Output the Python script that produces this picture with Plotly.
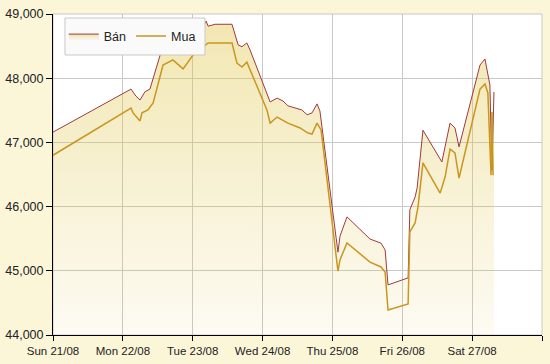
import plotly.graph_objects as go

# Bán (sell) series
ban_time = ["2011-08-21 00:00", "2011-08-22 02:48", "2011-08-22 04:30", "2011-08-22 05:54",
            "2011-08-22 07:36", "2011-08-22 09:18", "2011-08-22 12:48", "2011-08-22 14:30",
            "2011-08-22 16:12", "2011-08-22 19:36", "2011-08-22 23:06", "2011-08-23 01:30",
            "2011-08-23 02:48", "2011-08-23 03:54", "2011-08-23 04:36", "2011-08-23 05:18",
            "2011-08-23 07:42", "2011-08-23 13:30", "2011-08-23 15:36", "2011-08-23 16:54",
            "2011-08-23 18:36", "2011-08-23 19:42", "2011-08-24 02:36", "2011-08-24 05:00",
            "2011-08-24 07:00", "2011-08-24 08:42", "2011-08-24 13:30", "2011-08-24 15:18",
            "2011-08-24 17:00", "2011-08-24 18:42", "2011-08-24 19:42", "2011-08-25 01:54",
            "2011-08-25 02:36", "2011-08-25 05:00", "2011-08-25 12:54", "2011-08-25 16:42",
            "2011-08-25 18:06", "2011-08-25 19:06", "2011-08-26 02:00", "2011-08-26 02:36",
            "2011-08-26 04:24", "2011-08-26 05:06", "2011-08-26 07:06", "2011-08-26 13:36",
            "2011-08-26 16:24", "2011-08-26 18:06", "2011-08-26 19:30", "2011-08-27 02:42",
            "2011-08-27 04:24", "2011-08-27 06:06", "2011-08-27 06:48", "2011-08-27 07:30"]
ban_price = [47160, 47830, 47720, 47660,
             47790, 47830, 48360, 48595,
             48720, 48780, 48840, 48875,
             48890, 48830, 48890, 48810,
             48840, 48840, 48520, 48490,
             48550, 48440, 47630, 47690,
             47645, 47570, 47505, 47430,
             47460, 47600, 47490, 45290,
             45540, 45840, 45495, 45430,
             45325, 44780, 44890, 45950,
             46150, 46290, 47190, 46695,
             47300, 47225, 46930, 48205,
             48300, 47895, 46570, 47785]

# Mua (buy) series
mua_time = ["2011-08-21 00:00", "2011-08-22 02:48", "2011-08-22 03:30", "2011-08-22 05:54",
            "2011-08-22 06:36", "2011-08-22 08:36", "2011-08-22 10:24", "2011-08-22 12:48",
            "2011-08-22 13:48", "2011-08-22 17:12", "2011-08-22 20:42", "2011-08-23 00:06",
            "2011-08-23 04:12", "2011-08-23 05:18", "2011-08-23 13:30", "2011-08-23 15:12",
            "2011-08-23 16:54", "2011-08-23 18:36", "2011-08-24 01:30", "2011-08-24 02:36",
            "2011-08-24 05:00", "2011-08-24 07:00", "2011-08-24 08:42", "2011-08-24 12:54",
            "2011-08-24 15:36", "2011-08-24 17:00", "2011-08-24 18:42", "2011-08-24 20:06",
            "2011-08-25 01:54", "2011-08-25 02:36", "2011-08-25 05:00", "2011-08-25 12:54",
            "2011-08-25 16:42", "2011-08-25 18:06", "2011-08-25 19:06", "2011-08-26 02:00",
            "2011-08-26 02:36", "2011-08-26 04:24", "2011-08-26 05:24", "2011-08-26 07:06",
            "2011-08-26 13:00", "2011-08-26 14:42", "2011-08-26 16:24", "2011-08-26 18:06",
            "2011-08-26 19:30", "2011-08-27 02:42", "2011-08-27 04:24", "2011-08-27 05:24",
            "2011-08-27 06:30", "2011-08-27 06:48", "2011-08-27 07:12"]
mua_price = [46800, 47535, 47460, 47335,
             47460, 47505, 47615, 48005,
             48205, 48285, 48145, 48360,
             48515, 48550, 48550, 48235,
             48175, 48250, 47505, 47300,
             47395, 47350, 47300, 47225,
             47145, 47130, 47300, 47195,
             44995, 45170, 45435, 45135,
             45060, 44980, 44390, 44485,
             45605, 45745, 45995, 46680,
             46210, 46460, 46895, 46835,
             46445, 47830, 47910, 47770,
             46490, 47475, 46490]

y_range = [44000, 49000]
x_range = ["2011-08-21", "2011-08-28"]

FONT = "Liberation Sans, Arial, sans-serif"
PAPER = "#FBF6D8"

fig = go.Figure()
fig.add_trace(go.Scatter(
    x=ban_time, y=ban_price, name="Bán", mode="lines",
    line=dict(color="#9E3A3E", width=1),
    fill="tozeroy",
    fillgradient=dict(type="vertical", start=y_range[0], stop=y_range[1],
                      colorscale=[[0, "rgba(225,200,80,0.07)"], [1, "rgba(225,200,80,0.45)"]]),
))
fig.add_trace(go.Scatter(
    x=mua_time, y=mua_price, name="Mua", mode="lines",
    line=dict(color="#C9961F", width=1.5),
))

fig.update_layout(
    width=550, height=364,
    margin=dict(l=53, r=8, t=14, b=29, autoexpand=False),
    paper_bgcolor=PAPER,
    plot_bgcolor="#FFFFFF",
    font=dict(family=FONT, size=12, color="#222222"),
    showlegend=True,
    legend=dict(orientation="h", x=0.022, y=0.93, xanchor="left", yanchor="middle",
                bgcolor="rgba(0,0,0,0)", borderwidth=0,
                font=dict(size=12.5, family=FONT, color="#222222"),
                itemwidth=30),
    xaxis=dict(type="date", range=x_range, tick0="2011-08-21", dtick=86400000,
               tickformat="%a %d/%m", showgrid=True, gridcolor="#C8C8C8", gridwidth=1,
               showline=True, linecolor="#000000", linewidth=1,
               ticks="outside", ticklen=5, tickcolor="#000000",
               tickfont=dict(size=11.5, family=FONT, color="#222222"),
               zeroline=False, fixedrange=True, layer="above traces", automargin=False),
    yaxis=dict(range=y_range, dtick=1000, tickformat=",", showgrid=True,
               gridcolor="#C8C8C8", gridwidth=1,
               showline=True, linecolor="#000000", linewidth=1,
               ticks="outside", ticklen=6, tickcolor="#000000",
               tickfont=dict(size=12.5, family=FONT, color="#222222"),
               zeroline=False, fixedrange=True, layer="above traces", automargin=False),
    shapes=[dict(type="rect", xref="paper", yref="paper", x0=0, x1=1, y0=0, y1=1,
                 line=dict(color="#C8C8C8", width=1), layer="below"),
            dict(type="rect", xref="paper", yref="paper", x0=0.0245, x1=0.3108,
                 y0=0.8723, y1=0.9875, fillcolor="#FAFAFA",
                 line=dict(color="#C8C8C8", width=1), layer="above")],
)

fig.write_html(
    "out.html",
    config={"displayModeBar": False},
    post_script=f"document.body.style.margin='0';document.body.style.background='{PAPER}';",
)
